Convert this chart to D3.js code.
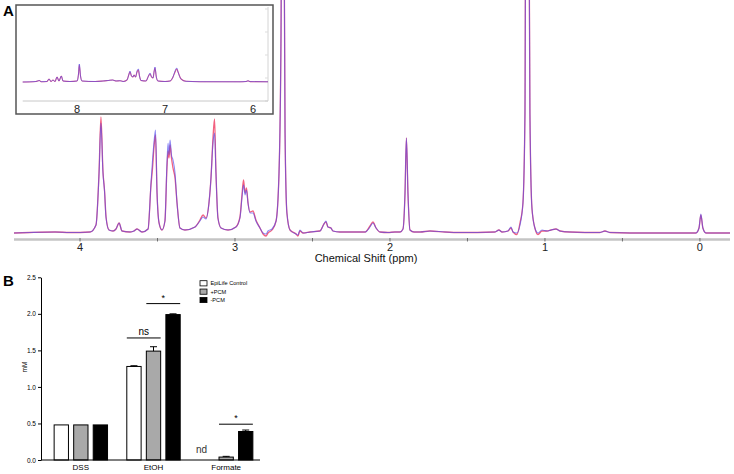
<!DOCTYPE html>
<html><head><meta charset="utf-8">
<script src="https://cdn.jsdelivr.net/npm/d3@7"></script>
<style>
body{margin:0;background:#fff;}
text{font-family:"Liberation Sans",Arial,Helvetica,sans-serif;}
</style></head>
<body><svg id="c" width="734" height="474"></svg>
<script>
// ---------- Panel A: 1H NMR spectrum (ppm, intensity a.u.) ----------
const specPpm = [4.426,4.323,4.161,4.065,3.935,3.897,3.877,3.865,3.852,3.842,3.832,3.813,3.787,3.768,3.748,3.729,3.677,3.652,3.632,3.600,3.561,3.542,3.532,3.523,3.513,3.503,3.490,3.471,3.452,3.439,3.432,3.426,3.419,3.410,3.400,3.387,3.374,3.355,3.323,3.258,3.226,3.206,3.187,3.168,3.155,3.142,3.132,3.123,3.110,3.090,3.045,2.994,2.968,2.955,2.945,2.935,2.926,2.916,2.903,2.884,2.865,2.839,2.819,2.800,2.787,2.761,2.735,2.716,2.703,2.697,2.687,2.677,2.665,2.645,2.606,2.594,2.581,2.561,2.516,2.452,2.426,2.413,2.400,2.381,2.368,2.323,2.161,2.129,2.110,2.090,2.065,2.013,1.968,1.935,1.916,1.903,1.894,1.884,1.871,1.845,1.806,1.742,1.645,1.548,1.323,1.297,1.277,1.239,1.219,1.206,1.181,1.161,1.142,1.129,1.123,1.106,1.097,1.084,1.065,1.045,1.019,0.987,0.961,0.929,0.903,0.839,0.645,0.613,0.581,0.323,0.026,0.006,-0.006,-0.019,-0.039,-0.194];
const specBlue = [0,0.5,1,0.5,1,8,60,110,60,42,15,3,2,4,10,2,1,2,4,1,4,50,73,90,103,40,10,3,12,70,90,78,93,78,73,60,30,5,3,6,12,16,14,30,55,90,100,60,15,5,3,6,15,35,48,38,43,30,20,20,12,5,0,-1,2,4,12,60,200,400,400,100,20,3,-1,-2,3,0,1,2,9,12,6,5,2,1,1,6,10,5,1,0.5,1,1,4,40,95,40,3,1,1,2,1,0.5,1,3,1,2,6,1,0,8,30,120,400,400,120,25,5,0,3,2,3,4,2,1,0.5,2,0.5,0,0,5,19,5,0,0];
const specRed  = [0,0.5,1,0.5,1,8,62,116,62,43,16,3,2,4,10,2,1,2,4,1,4,48,65,85,98,40,10,3,12,65,82,75,88,75,65,55,30,5,3,6,13,18,15,30,55,95,114,62,15,5,3,6,16,38,53,40,45,30,21,22,13,5,-1,-3,0,3,12,60,200,400,400,100,20,3,-1,-3,2,0,1,2,9,11,6,5,2,1,1,7,11,5,1,0.5,1,1,4,40,95,40,3,1,1,2,1,0.5,1,3,1,2,5,1,-1.5,10,30,120,400,400,120,25,5,-1.5,2,2,3,4,2,1,0.5,2,0.5,0,0,5,18,5,0,0];
const mainTicks = [4,3,2,1,0];

// inset: aromatic region
const insetPpm  = [8.617,8.466,8.428,8.409,8.341,8.318,8.295,8.273,8.250,8.227,8.205,8.178,8.159,8.080,8.000,7.983,7.974,7.960,7.943,7.795,7.705,7.648,7.594,7.557,7.511,7.477,7.432,7.409,7.398,7.381,7.364,7.352,7.335,7.318,7.303,7.290,7.273,7.216,7.188,7.170,7.153,7.136,7.125,7.114,7.099,7.080,7.000,6.943,6.909,6.886,6.867,6.852,6.818,6.761,6.602,6.148,6.080,6.057,6.034,5.830];
const insetBlue = [0,0.5,1.5,0.3,0.5,3,0.5,2,0.5,5,1,6,1,0.5,1,8,18,6,1,0.5,1,1.5,2,1,1.3,0.5,2,8,11,6,5,7,5,11,13,6,1.5,1,6,9,5,4,10,15,5,1,0.5,1,5,11,14,10,3,0.7,0.3,0.2,0.5,1.2,0.4,0.2];
const insetRed  = [0,0.5,1.5,0.3,0.5,3,0.5,2,0.5,5,1,6,1,0.5,1,8,17,6,1,0.5,1,1.5,2,1,1.3,0.5,2,8,10,6,5,7,5,10,12,6,1.5,1,6,8,5,4,10,14,5,1,0.5,1,5,10,13,10,3,0.7,0.3,0.2,0.5,1.2,0.4,0.2];
const insetTicks = [8,7,6];

// ---------- Panel B: metabolite concentrations ----------
const categories = ["DSS","EtOH","Formate"];
const seriesNames = ["EpiLife Control","+PCM","-PCM"];
const seriesFill = ["#ffffff","#a9a9a9","#000000"];
const valControl = [0.48, 1.28, null];
const valPlus    = [0.48, 1.49, 0.04];
const valMinus   = [0.48, 1.99, 0.39];
const errControl = [0, 0.01, 0];
const errPlus    = [0, 0.06, 0.01];
const errMinus   = [0, 0.01, 0.02];
const yTicksB = [0,0.5,1.0,1.5,2.0,2.5];

const svg = d3.select("#c");
const RED = "#f0456a", BLUE = "#4a46ee";

// ===== Main spectrum =====
const x = d3.scaleLinear().domain([4.426,-0.194]).range([14,730]);
const y = d3.scaleLinear().domain([-6,233]).range([239,0]);
svg.append("clipPath").attr("id","clipA").append("rect").attr("x",0).attr("y",0).attr("width",734).attr("height",239);
const gA = svg.append("g").attr("clip-path","url(#clipA)");
const lineA = d3.line().x(d=>x(d[0])).y(d=>y(d[1])).curve(d3.curveMonotoneX);
gA.append("path").datum(specPpm.map((p,i)=>[p,specRed[i]])).attr("d",lineA)
  .attr("fill","none").attr("stroke",RED).attr("stroke-width",1.3).attr("stroke-opacity",0.85);
gA.append("path").datum(specPpm.map((p,i)=>[p,specBlue[i]])).attr("d",lineA)
  .attr("fill","none").attr("stroke",BLUE).attr("stroke-width",1.1).attr("stroke-opacity",0.62);

// axis
svg.append("line").attr("x1",14).attr("x2",730).attr("y1",239.5).attr("y2",239.5)
  .attr("stroke","#c4c4c4").attr("stroke-width",2.5);
const minorA = d3.range(0,9).map(i=>i*0.5);
svg.selectAll(".mtk").data(minorA).enter().append("line")
  .attr("x1",d=>x(d)).attr("x2",d=>x(d)).attr("y1",238).attr("y2",241.5)
  .attr("stroke","#555").attr("stroke-width",0.8);
svg.selectAll(".mlab").data(mainTicks).enter().append("text")
  .attr("x",d=>x(d)).attr("y",251).attr("text-anchor","middle")
  .attr("font-size",11).attr("fill","#222").text(d=>d);
svg.append("text").attr("x",366).attr("y",262).attr("text-anchor","middle")
  .attr("font-size",11).attr("fill","#111").text("Chemical Shift (ppm)");
svg.append("text").attr("x",3).attr("y",16).attr("font-size",15).attr("font-weight","bold").text("A");

// ===== Inset =====
svg.append("rect").attr("x",16).attr("y",5).attr("width",257).attr("height",109)
  .attr("fill","#fff").attr("stroke","#555").attr("stroke-width",1.5);
const xi = d3.scaleLinear().domain([8.617,5.830]).range([22.7,268]);
const yi = d3.scaleLinear().domain([-19,75]).range([101,7]);
const lineI = d3.line().x(d=>xi(d[0])).y(d=>yi(d[1])).curve(d3.curveMonotoneX);
svg.append("line").attr("x1",268).attr("x2",268).attr("y1",7).attr("y2",101).attr("stroke","#d4d4d4").attr("stroke-width",1);
svg.selectAll(".itk").data(d3.range(0,5)).enter().append("line")
  .attr("x1",265).attr("x2",268).attr("y1",d=>101-d*23).attr("y2",d=>101-d*23).attr("stroke","#ddd");
svg.append("line").attr("x1",22.7).attr("x2",268).attr("y1",101).attr("y2",101).attr("stroke","#c8c8c8").attr("stroke-width",1);
svg.append("path").datum(insetPpm.map((p,i)=>[p,insetRed[i]])).attr("d",lineI)
  .attr("fill","none").attr("stroke",RED).attr("stroke-width",1.1).attr("stroke-opacity",0.85);
svg.append("path").datum(insetPpm.map((p,i)=>[p,insetBlue[i]])).attr("d",lineI)
  .attr("fill","none").attr("stroke",BLUE).attr("stroke-width",1).attr("stroke-opacity",0.62);
svg.selectAll(".itl").data(insetTicks).enter().append("text")
  .attr("x",d=>xi(d)).attr("y",112.5).attr("text-anchor","middle").attr("font-size",11).attr("fill","#222").text(d=>d);

// ===== Panel B =====
const yB = d3.scaleLinear().domain([0,2.5]).range([460,277.3]);
const xB = d3.scaleBand().domain(categories).range([44.5,262.5]);
const xS = d3.scaleBand().domain(seriesNames).range([-26.7,26.7]).paddingInner(0.267);
const vals = [valControl,valPlus,valMinus], errs=[errControl,errPlus,errMinus];
const gB = svg.append("g");
categories.forEach((c,ci)=>{
  seriesNames.forEach((s,si)=>{
    const v = vals[si][ci]; if(v==null) return;
    const cx = xB(c)+xB.bandwidth()/2 + xS(s);
    gB.append("rect").attr("x",cx).attr("y",yB(v)).attr("width",xS.bandwidth()).attr("height",yB(0)-yB(v))
      .attr("fill",seriesFill[si]).attr("stroke","#000").attr("stroke-width",1);
    const e = errs[si][ci];
    if(e>0){
      const mx = cx + xS.bandwidth()/2;
      gB.append("line").attr("x1",mx).attr("x2",mx).attr("y1",yB(v)).attr("y2",yB(v+e)).attr("stroke","#000").attr("stroke-width",1);
      gB.append("line").attr("x1",mx-3.5).attr("x2",mx+3.5).attr("y1",yB(v+e)).attr("y2",yB(v+e)).attr("stroke","#000").attr("stroke-width",1);
    }
  });
});
const axL = gB.append("g").attr("transform","translate(41,0)")
  .call(d3.axisLeft(yB).tickValues(yTicksB).tickFormat(d3.format(".1f")).tickSize(3).tickPadding(2).tickSizeOuter(0));
axL.selectAll("text").attr("font-size",6.5).attr("font-family","Liberation Sans,Arial,sans-serif");
axL.select(".domain").attr("stroke","#000");
gB.append("line").attr("x1",41).attr("x2",260).attr("y1",460).attr("y2",460).attr("stroke","#000");
gB.selectAll(".cl").data(categories).enter().append("text")
  .attr("x",d=>xB(d)+xB.bandwidth()/2).attr("y",470).attr("text-anchor","middle").attr("font-size",8).text(d=>d);
gB.append("text").attr("transform","translate(27,367) rotate(-90)").attr("text-anchor","middle").attr("font-size",6.5).text("mM");
svg.append("text").attr("x",3).attr("y",286).attr("font-size",15).attr("font-weight","bold").text("B");

// significance marks
function sig(cat, s1, s2, level, label){
  const c0 = xB(cat)+xB.bandwidth()/2;
  const x1 = c0 + xS(s1), x2 = c0 + xS(s2) + xS.bandwidth();
  gB.append("line").attr("x1",x1).attr("x2",x2).attr("y1",yB(level)).attr("y2",yB(level)).attr("stroke","#000").attr("stroke-width",1);
  gB.append("text").attr("x",(x1+x2)/2).attr("y",yB(level)-3).attr("text-anchor","middle")
    .attr("font-size",label==="*"?9:10).text(label);
}
sig("EtOH","EpiLife Control","+PCM",1.67,"ns");
sig("EtOH","+PCM","-PCM",2.14,"*");
sig("Formate","+PCM","-PCM",0.49,"*");
gB.append("text").attr("x",xB("Formate")+xB.bandwidth()/2+xS("EpiLife Control")+2).attr("y",yB(0.09))
  .attr("text-anchor","middle").attr("font-size",10).attr("fill","#333").text("nd");

// legend
seriesNames.forEach((s,i)=>{
  const ly = 283.3 + i*8.35;
  gB.append("rect").attr("x",200).attr("y",ly-2.6).attr("width",7).attr("height",5.2)
    .attr("fill",seriesFill[i]).attr("stroke","#000").attr("stroke-width",0.8);
  gB.append("text").attr("x",210.5).attr("y",ly+2).attr("font-size",5.6).text(s);
});
</script></body></html>
